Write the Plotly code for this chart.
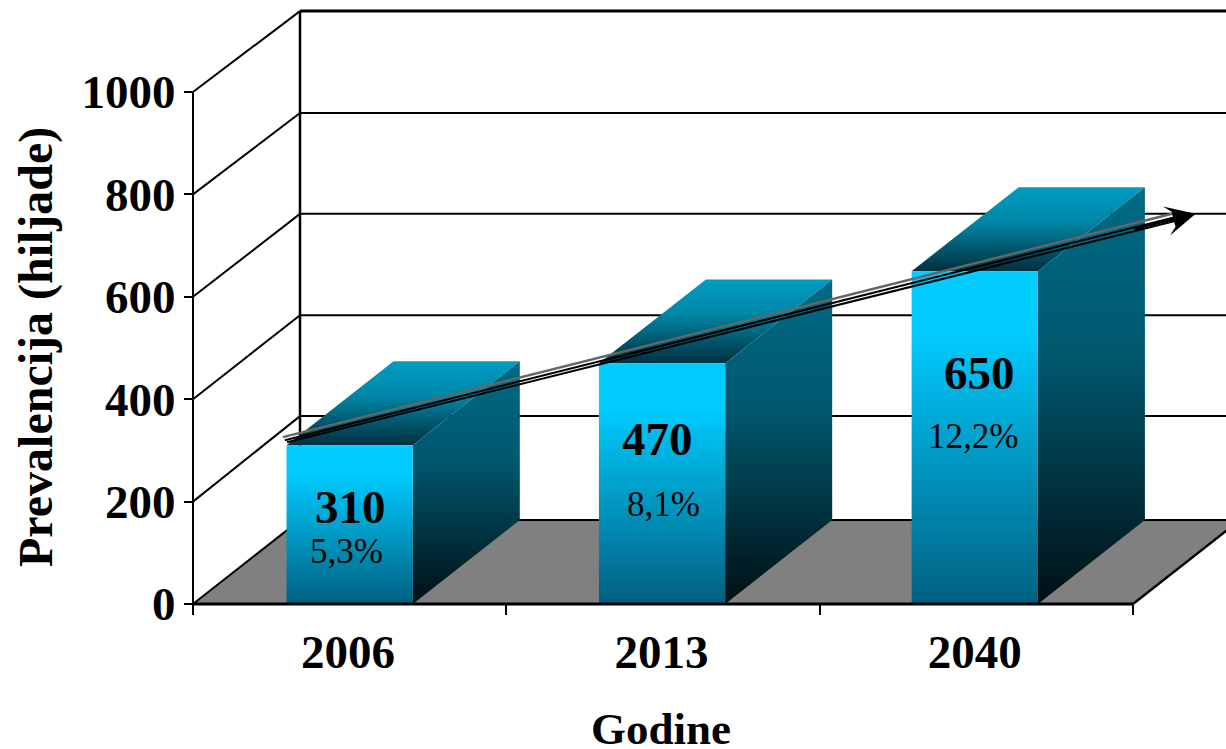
import plotly.graph_objects as go

FONT = "Liberation Serif"

categories = ["2006", "2013", "2040"]
category_ticks = [0.495, 1.495, 2.495]
bar_centers = [0.5, 1.497, 2.495]
values = [310, 470, 650]
value_labels = ["310", "470", "650"]
value_label_x = [0.503, 1.483, 2.51]
value_label_y = [189, 322, 451]
share_labels = ["5,3%", "8,1%", "12,2%"]
share_label_x = [0.49, 1.5, 2.49]
share_label_y = [103, 195, 328]
y_ticks = [0, 200, 400, 600, 800, 1000]
# the back wall is a bit compressed in the original
back_wall_y = [164, 367, 564, 762, 959, 1158]

# hand drawn trend arrow of the slide, in axis units
trend_gray_x = [0.287, 3.15]
trend_gray_y = [326, 766]
trend_black1_x = [0.293, 3.15]
trend_black1_y = [320, 758]
trend_black2_x = [0.3, 3.134]
trend_black2_y = [316, 748]
trend_tip = (3.2, 762)
trend_tail = (3.0, 732)

# oblique projection of the fake 3d box
DX = 0.3415
DY = 164
BAR_W = 0.403

# pixel scale of the front plane, plot area is a bit larger so edge lines dont get clipped
PX_X = 313.33
PX_Y = 0.512
LEFT, RIGHT, TOP_PX, BOTTOM = 183, 1226, 5, 614
ORIGIN_X, ORIGIN_Y = 193, 604

X_RANGE = [(LEFT - ORIGIN_X) / PX_X, (RIGHT - ORIGIN_X) / PX_X]
Y_RANGE = [(ORIGIN_Y - BOTTOM) / PX_Y, (ORIGIN_Y - TOP_PX) / PX_Y]

FRONT = [[0, "#00ccff"], [0.18, "#00ccff"], [1, "#006080"]]
SIDE = [[0, "#006a85"], [0.4, "#00586e"], [1, "#001015"]]
TOP = [[0, "#009cc0"], [0.4, "#0088a8"], [1, "#00303f"]]

fig = go.Figure()


def line(x, y, width=2, color="black"):
    fig.add_trace(go.Scatter(x=x, y=y, mode="lines", line=dict(color=color, width=width),
                             hoverinfo="skip", showlegend=False))


def face(x, y, scale, y_top, y_bottom):
    fig.add_trace(go.Scatter(x=x, y=y, mode="lines", line=dict(width=0), fill="toself",
                             fillgradient=dict(type="vertical", colorscale=scale,
                                               start=y_top, stop=y_bottom),
                             hoverinfo="skip", showlegend=False))


# floor
fig.add_trace(go.Scatter(x=[0, DX, 3 + DX, 3, 0], y=[0, DY, DY, 0, 0], mode="lines",
                         line=dict(width=0), fill="toself", fillcolor="#808080",
                         hoverinfo="skip", showlegend=False))

# walls and gridlines
for v, back in zip(y_ticks, back_wall_y):
    line([0, DX], [v, back])
    line([DX, X_RANGE[1]], [back, back], width=3 if v == 1000 else 2)
line([DX, DX], [back_wall_y[0], back_wall_y[-1]], width=2.5)
line([3, 3 + DX], [0, DY], width=2.5)

# bars
for c, v in zip(bar_centers, values):
    x0 = c - BAR_W / 2
    x1 = x0 + BAR_W
    face([x0, x1, x1 + DX, x0 + DX, x0], [v, v, v + DY, v + DY, v], TOP, v + DY, v)
    face([x1, x1 + DX, x1 + DX, x1, x1], [v, v + DY, DY, 0, v], SIDE, v + DY, 0)
    face([x0, x1, x1, x0, x0], [v, v, 0, 0, v], FRONT, v, 0)

# axis lines
line([0, 3], [0, 0], width=3)
line([0, 0], [0, 1000], width=2)

# trend arrow
line(trend_gray_x, trend_gray_y, width=2.5, color="#666666")
line(trend_black1_x, trend_black1_y, width=2)
line(trend_black2_x, trend_black2_y, width=2)
# solid middle of the head, the symbol has its point on the data position
fig.add_trace(go.Scatter(x=[trend_tip[0]], y=[trend_tip[1]], mode="markers",
                         marker=dict(symbol="arrow", size=24, angle=76, color="black",
                                     line=dict(width=0)),
                         hoverinfo="skip", showlegend=False))

annotations = []
for i in range(3):
    annotations.append(dict(x=value_label_x[i], y=value_label_y[i], text="<b>%s</b>" % value_labels[i],
                            showarrow=False, font=dict(family=FONT, size=47, color="black")))
    annotations.append(dict(x=share_label_x[i], y=share_label_y[i], text=share_labels[i],
                            showarrow=False, font=dict(family=FONT, size=35, color="black")))

annotations.append(dict(x=trend_tip[0], y=trend_tip[1], ax=trend_tail[0], ay=trend_tail[1],
                        xref="x", yref="y", axref="x", ayref="y", text="", showarrow=True,
                        arrowhead=3, arrowsize=2, arrowwidth=2.5, arrowcolor="black"))
plot_w = RIGHT - LEFT
plot_h = BOTTOM - TOP_PX
annotations.append(dict(xref="paper", yref="paper", x=(36 - LEFT) / plot_w, y=(BOTTOM - 347) / plot_h,
                        xanchor="center", yanchor="middle",
                        text="<b>Prevalencija (hiljade)</b>", textangle=-90, showarrow=False,
                        font=dict(family=FONT, size=48, color="black")))
annotations.append(dict(xref="paper", yref="paper", x=(661 - LEFT) / plot_w, y=(BOTTOM - 729) / plot_h,
                        xanchor="center", yanchor="middle",
                        text="<b>Godine</b>", showarrow=False,
                        font=dict(family=FONT, size=45, color="black")))

fig.update_layout(
    width=1226,
    height=749,
    margin=dict(l=LEFT, r=1226 - RIGHT, t=TOP_PX, b=749 - BOTTOM),
    paper_bgcolor="white",
    plot_bgcolor="white",
    showlegend=False,
    hovermode=False,
    annotations=annotations,
    xaxis=dict(
        range=X_RANGE,
        anchor="free",
        position=(BOTTOM - ORIGIN_Y) / plot_h,
        showgrid=False,
        zeroline=False,
        showline=False,
        tickmode="array",
        tickvals=category_ticks,
        ticktext=["<b>%s</b>" % c for c in categories],
        ticks="",
        ticklabelstandoff=16,
        tickfont=dict(family=FONT, size=47, color="black"),
        minor=dict(tickmode="array", tickvals=[0, 1, 2, 3], ticks="outside",
                   ticklen=10, tickwidth=2, tickcolor="black"),
    ),
    yaxis=dict(
        range=Y_RANGE,
        anchor="free",
        position=(ORIGIN_X - LEFT) / plot_w,
        showgrid=False,
        zeroline=False,
        showline=False,
        tickmode="array",
        tickvals=y_ticks,
        ticktext=["<b>%d</b>" % t for t in y_ticks],
        ticks="outside",
        ticklen=9,
        tickwidth=2,
        tickcolor="black",
        ticklabelstandoff=-1,
        tickfont=dict(family=FONT, size=47, color="black"),
    ),
)

fig.write_html("out.html", config=dict(displayModeBar=False),
               post_script="document.body.style.margin='0';")
